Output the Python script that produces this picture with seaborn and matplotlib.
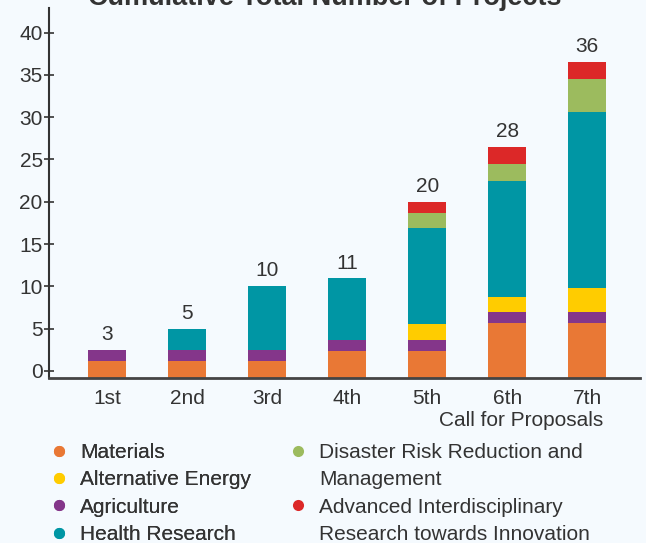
"""
Накопленное число проектов по конкурсам (stacked bar)
"""
import numpy as np
import pandas as pd
import matplotlib.pyplot as plt
import seaborn as sns
from matplotlib.lines import Line2D

calls = ['1st', '2nd', '3rd', '4th', '5th', '6th', '7th']
totals = [3, 5, 10, 11, 20, 28, 36]

# высоты сегментов (от линии оси)
materials = [2.0, 2.0, 2.0, 3.15, 3.15, 6.45, 6.45]
agriculture = [1.3, 1.3, 1.3, 1.3, 1.3, 1.3, 1.3]
alt_energy = [0, 0, 0, 0, 1.9, 1.75, 2.85]
health = [0, 2.5, 7.55, 7.3, 11.35, 13.8, 20.8]
drrm = [0, 0, 0, 0, 1.75, 2.0, 3.9]
airti = [0, 0, 0, 0, 1.3, 2.0, 2.0]

series = ['Materials', 'Agriculture', 'Alternative Energy', 'Health Research',
          'Disaster Risk Reduction and Management',
          'Advanced Interdisciplinary Research towards Innovation']
colors = {
    'Materials': '#E97835',
    'Alternative Energy': '#FFCC00',
    'Agriculture': '#84368A',
    'Health Research': '#0096A4',
    'Disaster Risk Reduction and Management': '#9CBB5E',
    'Advanced Interdisciplinary Research towards Innovation': '#DC2828',
}

df = pd.DataFrame({
    'Materials': materials,
    'Agriculture': agriculture,
    'Alternative Energy': alt_energy,
    'Health Research': health,
    'Disaster Risk Reduction and Management': drrm,
    'Advanced Interdisciplinary Research towards Innovation': airti,
}, index=calls)

BASE = -0.8
BG = '#F5FAFE'
FS = 15

sns.set_theme(style='white')
plt.rcParams['font.family'] = ['Liberation Sans', 'DejaVu Sans']
plt.rcParams['text.color'] = '#333333'

fig = plt.figure(figsize=(6.46, 5.43), dpi=100, facecolor=BG)
ax = fig.add_axes([49 / 646, 1 - 377.7 / 543, 591 / 646, 369.7 / 543])
ax.set_facecolor(BG)

x = np.arange(len(calls))
bottom = np.full(len(calls), BASE)
for s in series:
    vals = df[s].values
    ax.bar(x, vals, bottom=bottom, width=0.475, color=colors[s], linewidth=0)
    bottom = bottom + vals

for xi, top, t in zip(x, bottom, totals):
    ax.annotate(str(t), (xi, top), xytext=(0, 11), textcoords='offset points',
                ha='center', va='center', fontsize=FS, color='#333333')

ax.set_xlim(-0.725, 6.66)
ax.set_ylim(BASE, 42.9)
ax.set_yticks(range(0, 41, 5))
ax.set_xticks(x)
ax.set_xticklabels(calls)
ax.tick_params(axis='y', direction='inout', length=7, width=1.2, colors='#333333',
               labelsize=FS, pad=1, left=True)
ax.tick_params(axis='x', length=0, labelsize=FS, pad=8, colors='#333333')

sns.despine(ax=ax)
ax.spines['left'].set_color('#333333')
ax.spines['left'].set_linewidth(1.5)
ax.spines['bottom'].set_color('#444444')
ax.spines['bottom'].set_linewidth(2)

ax.set_xlabel('Call for Proposals', fontsize=FS, color='#333333', ha='right', va='top')
ax.xaxis.set_label_coords(0.937, -0.09)

# заголовок обрезан сверху, как в оригинале
fig.suptitle('Cumulative Total Number of Projects', fontsize=19.5, fontweight='bold',
             color='#333333', x=0.503, y=1 - 5 / 543, va='baseline')

# легенда: две колонки
def dot(c):
    return Line2D([], [], linestyle='none', marker='o', markersize=8,
                  markerfacecolor=c, markeredgewidth=0)

blank = Line2D([], [], linestyle='none', marker=None)

leg_kw = dict(frameon=False, fontsize=FS, handlelength=0.7, handletextpad=0.65,
              labelspacing=0.4, borderpad=0, borderaxespad=0, loc='upper left')

col1 = ['Materials', 'Alternative Energy', 'Agriculture', 'Health Research']
leg1 = fig.legend([dot(colors[c]) for c in col1], col1,
                  bbox_to_anchor=(51.8 / 646, 1 - 443 / 543), **leg_kw)
fig.add_artist(leg1)

leg2 = fig.legend(
    [dot(colors['Disaster Risk Reduction and Management']), blank,
     dot(colors['Advanced Interdisciplinary Research towards Innovation']), blank],
    ['Disaster Risk Reduction and', 'Management',
     'Advanced Interdisciplinary', 'Research towards Innovation'],
    bbox_to_anchor=(290.8 / 646, 1 - 443 / 543), **leg_kw)

fig.savefig('out.png', dpi=100, facecolor=BG)
